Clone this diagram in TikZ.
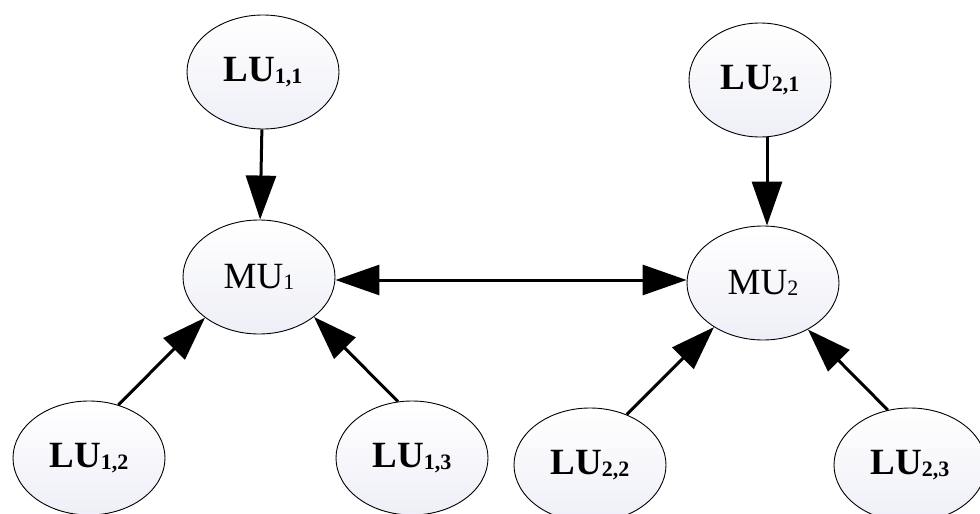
\documentclass[tikz,border=0pt]{standalone}
\usepackage{fontspec}
\setmainfont{Liberation Serif}
\usetikzlibrary{shapes.geometric,arrows.meta}
\newcommand\idx[1]{\raisebox{-0.04em}{\fontsize{22}{22}\selectfont #1}}
\tikzset{
  unit/.style={ellipse, draw=black, line width=0.9pt, inner sep=0pt,
    minimum width=152pt, minimum height=114pt,
    top color=white, bottom color={rgb,255:red,238;green,239;blue,247},
    font=\fontsize{37}{37}\selectfont},
  lu/.style={unit, font=\fontsize{37}{37}\selectfont\bfseries},
  link/.style={line width=3pt, -{Triangle[length=44pt,width=30pt]}},
  biglink/.style={line width=3pt, {Triangle[length=44pt,width=30pt]}-{Triangle[length=44pt,width=30pt]}}
}
\begin{document}
\begin{tikzpicture}[x=1pt,y=-1pt]
  \useasboundingbox (0,0) rectangle (980,514);
  % main units
  \node[unit] (mu1) at (259,277) {MU\idx{1}};
  \node[unit] (mu2) at (763,283) {MU\idx{2}};
  % local units of the first group
  \node[lu] (lu11) at (263,72) {LU\idx{1,1}};
  \node[lu] (lu12) at (89,458) {LU\idx{1,2}};
  \node[lu] (lu13) at (412,458) {LU\idx{1,3}};
  % local units of the second group
  \node[lu, minimum width=142pt] (lu21) at (760,80) {LU\idx{2,1}};
  \node[lu] (lu22) at (590,465) {LU\idx{2,2}};
  \node[lu] (lu23) at (910,465) {LU\idx{2,3}};
  % connectors
  \draw[link] (lu11) -- (mu1);
  \draw[link] (lu12.61) -- (mu1.217);
  \draw[link] (lu13.104) -- (mu1.324);
  \draw[link] (lu21.south -| 767,0) -- (mu2.north -| 767,0);
  \draw[link] (lu22.54) -- (mu2.222);
  \draw[link] (lu23.112) -- (mu2.314);
  \draw[biglink] (mu1.east |- 0,280) -- (mu2.west |- 0,280);
\end{tikzpicture}
\end{document}
